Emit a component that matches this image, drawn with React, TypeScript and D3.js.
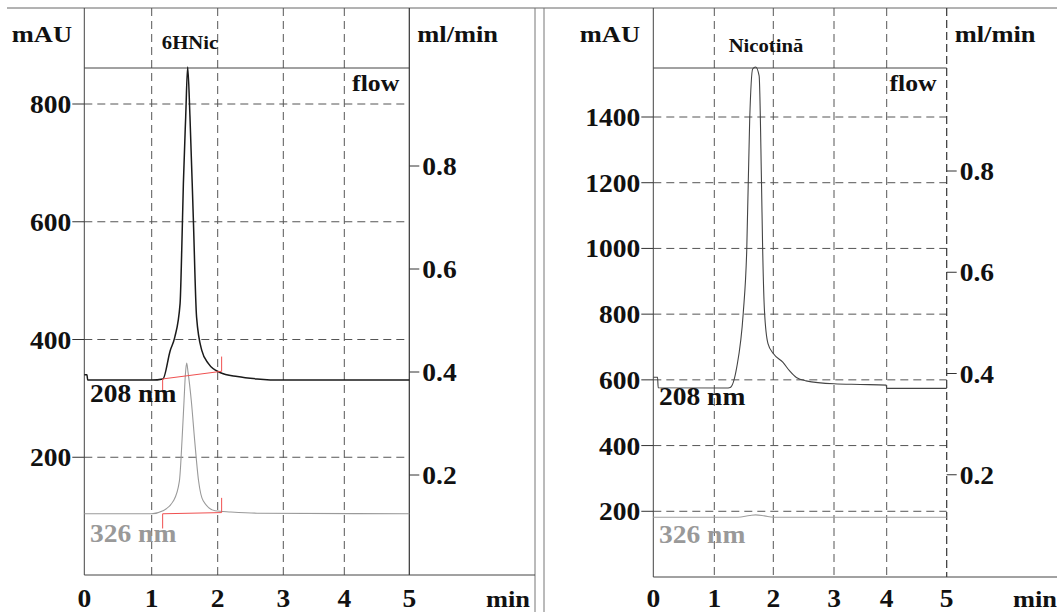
import React from "react";
import * as d3 from "d3";

// ---------- data ----------
const xTicks = [0, 1, 2, 3, 4, 5];
const flowTicks = [0.2, 0.4, 0.6, 0.8];
const leftYTicks = [200, 400, 600, 800];
const rightYTicks = [200, 400, 600, 800, 1000, 1200, 1400];

// left panel: 6HNic
const l208T = [0, 0.04, 0.05, 0.5, 1.0, 1.17, 1.28, 1.35, 1.43, 1.455, 1.48, 1.515, 1.545, 1.58, 1.63, 1.68, 1.76, 1.86, 2.035, 2.3, 2.6, 3.0, 4.0, 5.0];
const l208V = [340, 340, 331, 331, 331, 333, 381, 404, 461, 551, 665, 778, 863, 778, 608, 438, 381, 359, 344, 337, 333, 331, 331, 331];
const l326T = [0, 1.0, 1.17, 1.33, 1.42, 1.46, 1.49, 1.51, 1.53, 1.55, 1.6, 1.65, 1.71, 1.78, 1.96, 2.2, 2.6, 5.0];
const l326V = [104, 104, 109, 126, 160, 230, 296, 340, 360, 345, 296, 230, 160, 126, 109, 107, 105, 104];
// integration marks [tStart, vStart, tEnd, vEnd, vTickLow, vTickHigh]
const l208Int = [1.166, 333, 2.06, 346, 310, 371];
const l326Int = [1.166, 104, 2.06, 106, 79, 131];

// right panel: Nicotina
const r208T = [0, 0.07, 0.08, 1.2, 1.27, 1.38, 1.49, 1.55, 1.6, 1.65, 1.7, 1.76, 1.8, 1.82, 1.85, 1.91, 2.0, 2.16, 2.27, 2.38, 2.54, 3.0, 3.5, 3.99, 4.0, 5.0];
const r208V = [608, 608, 576, 575, 577, 638, 802, 995, 1393, 1546, 1552, 1525, 1200, 995, 811, 710, 680, 653, 627, 607, 597, 588, 586, 584, 574, 574];
const r326T = [0, 1.4, 1.6, 1.7, 1.85, 2.0, 5.0];
const r326V = [182, 182, 187, 189, 186, 182, 182];

const FONT = "'Liberation Serif', 'Times New Roman', serif";

function T(props: { x: number; y: number; size?: number; anchor?: string; fill?: string; sx?: number; children: any }) {
  const { x, y, size = 25, anchor = "start", fill = "#111", sx = 1.1, children } = props;
  return (
    <text
      transform={`translate(${x},${y}) scale(${sx},1)`}
      textAnchor={anchor as any}
      fontFamily={FONT}
      fontWeight="bold"
      fontSize={size}
      fill={fill}
    >
      {children}
    </text>
  );
}

function Panel(props: {
  xRange: number[]; yTicks: number[];
  yBottom: number; yTopVal: number; yTopPx: number;
  flowBottomPx: number; flowTopPx: number;
  rightDashed: boolean;
  title: string; titleX: number; titleY: number;
  traces: { t: number[]; v: number[]; color: string; w: number }[];
  ints: number[][];
  labelX: number; l208Y: number; l326Y: number;
  mauX: number; minX: number; axisEnd: number;
}) {
  const p = props;
  const x = d3.scaleLinear().domain(xTicks).range(p.xRange);
  const x0 = p.xRange[0];
  const x1 = p.xRange[5];
  const y = d3.scaleLinear().domain([0, p.yTopVal]).range([p.yBottom, p.yTopPx]);
  const f = d3.scaleLinear().domain([0, 0.8]).range([p.flowBottomPx, p.flowTopPx]);
  const top = 8;
  const header = 68;
  const grid = "#555";
  return (
    <g>
      {p.yTicks.map((v) => (
        <line key={"h" + v} x1={x0} x2={x1} y1={y(v)} y2={y(v)} stroke={grid} strokeWidth={1} strokeDasharray="8,5" />
      ))}
      {xTicks.slice(1, 5).map((t) => (
        <line key={"v" + t} x1={x(t)} x2={x(t)} y1={top} y2={p.yBottom} stroke={grid} strokeWidth={1} strokeDasharray="8,5" />
      ))}
      <line x1={x0} x2={x0} y1={top} y2={p.yBottom} stroke="#444" strokeWidth={1} />
      <line x1={x1} x2={x1} y1={top} y2={p.yBottom} stroke="#333" strokeWidth={1.2} strokeDasharray={p.rightDashed ? "8,4" : undefined} />
      <line x1={x0} x2={x1} y1={header} y2={header} stroke="#444" strokeWidth={1} />
      <line x1={x0} x2={p.axisEnd} y1={p.yBottom} y2={p.yBottom} stroke="#444" strokeWidth={1} />
      {p.yTicks.map((v) => (
        <g key={"yt" + v}>
          <line x1={x0 - 12} x2={x0} y1={y(v)} y2={y(v)} stroke="#333" />
          <T x={x0 - 13} y={y(v) + 9} anchor="end">{v}</T>
        </g>
      ))}
      {flowTicks.map((v) => (
        <g key={"ft" + v}>
          <line x1={x1} x2={x1 + 10} y1={f(v)} y2={f(v)} stroke="#333" />
          <T x={x1 + 13} y={f(v) + 9}>{v.toFixed(1)}</T>
        </g>
      ))}
      {xTicks.map((t) => (
        <T key={"xt" + t} x={x(t)} y={607} anchor="middle">{t}</T>
      ))}
      <T x={p.minX} y={607} size={24}>min</T>
      <T x={p.mauX} y={42} size={23} anchor="end" sx={1.15}>mAU</T>
      <T x={x1 + 8} y={42} size={23} sx={1.15}>ml/min</T>
      <T x={x1 - 10} y={91} size={23} anchor="end" sx={1.12}>flow</T>
      <T x={p.titleX} y={p.titleY} size={18} anchor="middle" sx={1.15}>{p.title}</T>
      {p.traces.map((tr, i) => {
        const pts: [number, number][] = tr.t.map((t, k) => [x(t), y(tr.v[k])]);
        const line = d3.line().curve(d3.curveMonotoneX)(pts) || "";
        return <path key={"tr" + i} d={line} fill="none" stroke={tr.color} strokeWidth={tr.w} />;
      })}
      {p.ints.map((m, i) => (
        <g key={"int" + i} stroke="#f05050" strokeWidth={1}>
          <line x1={x(m[0])} y1={y(m[1])} x2={x(m[2])} y2={y(m[3])} />
          <line x1={x(m[0])} y1={y(m[1])} x2={x(m[0])} y2={y(m[4])} />
          <line x1={x(m[2])} y1={y(m[3])} x2={x(m[2])} y2={y(m[5])} />
        </g>
      ))}
      <T x={p.labelX} y={p.l208Y}>208 nm</T>
      <T x={p.labelX} y={p.l326Y} fill="#999">326 nm</T>
    </g>
  );
}

export default function App() {
  return (
    <svg width={1057} height={612} style={{ position: "absolute", left: 0, top: 0, background: "#fff" }}>
      <rect width={1057} height={612} fill="#fff" />
      <line x1={7} x2={1057} y1={8} y2={8} stroke="#666" strokeWidth={1} />
      <line x1={535} x2={535} y1={8} y2={612} stroke="#777" strokeWidth={1} />
      <line x1={544} x2={544} y1={8} y2={612} stroke="#777" strokeWidth={1} />
      <Panel
        xRange={[84.3, 151.7, 217.7, 283.3, 344.3, 409.3]} yTicks={leftYTicks}
        yBottom={575} yTopVal={800} yTopPx={104} flowBottomPx={578} flowTopPx={166}
        rightDashed={false}
        title="6HNic" titleX={190} titleY={49}
        traces={[
          { t: l326T, v: l326V, color: "#9a9a9a", w: 1.1 },
          { t: l208T, v: l208V, color: "#1a1a1a", w: 1.5 },
        ]}
        ints={[l208Int, l326Int]}
        labelX={90} l208Y={402} l326Y={542}
        mauX={72} minX={486} axisEnd={535}
      />
      <Panel
        xRange={[653.3, 714.3, 773.3, 834, 886.7, 946.7]} yTicks={rightYTicks}
        yBottom={577} yTopVal={1400} yTopPx={117} flowBottomPx={576} flowTopPx={171}
        rightDashed={true}
        title="Nicotină" titleX={766} titleY={52}
        traces={[
          { t: r326T, v: r326V, color: "#a0a0a0", w: 1.1 },
          { t: r208T, v: r208V, color: "#444", w: 1.1 },
        ]}
        ints={[]}
        labelX={659} l208Y={405} l326Y={543}
        mauX={640} minX={1013} axisEnd={1057}
      />
    </svg>
  );
}
